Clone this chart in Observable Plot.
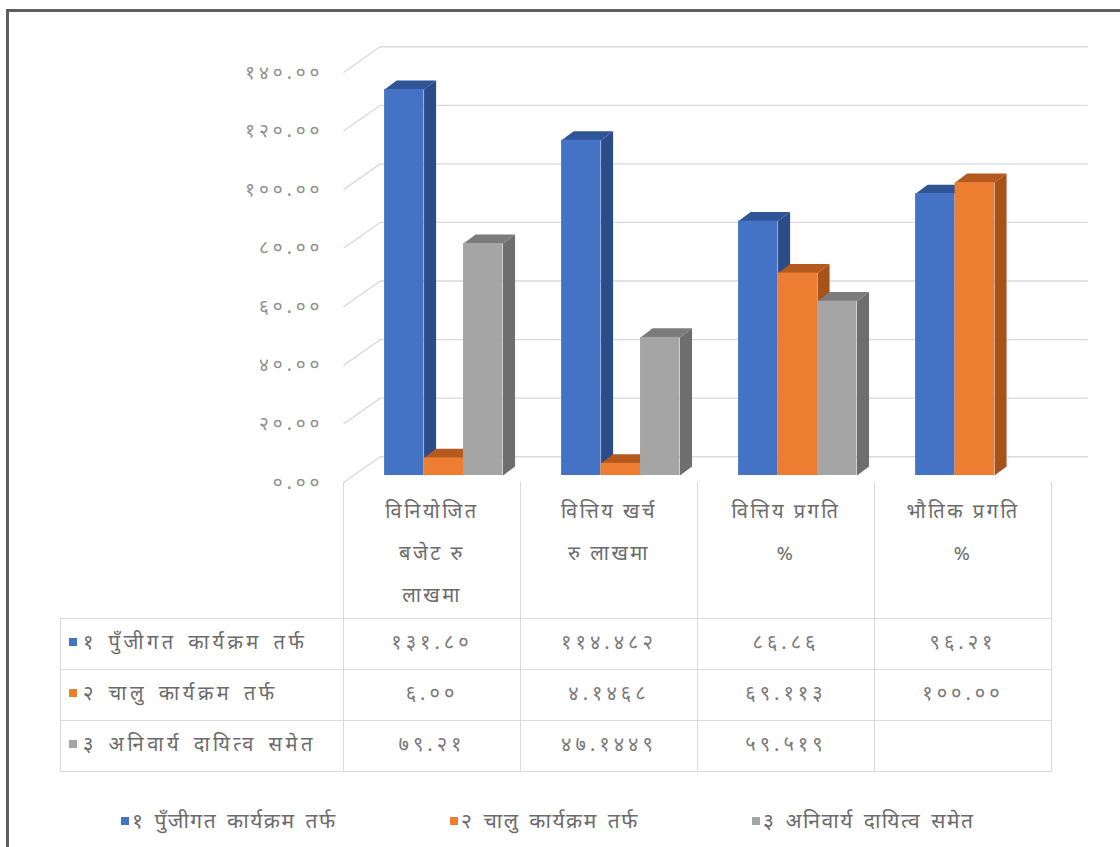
<!DOCTYPE html>
<html>
<head>
<meta charset="utf-8">
<script src="https://cdn.jsdelivr.net/npm/d3@7"></script>
<script src="https://cdn.jsdelivr.net/npm/@observablehq/plot@0.6"></script>
<style>
  html, body { margin: 0; padding: 0; background: #fff; }
  body { font-family: "Noto Sans Devanagari", "Lohit Devanagari", "Noto Sans", "DejaVu Sans", sans-serif; }
  #wrap { position: relative; width: 1120px; height: 847px; overflow: hidden; background: #fff; }
  #frame { position: absolute; left: 6px; top: 9px; width: 1300px; height: 1000px;
           border-left: 3px solid #5f5f5f; border-top: 3px solid #5f5f5f; box-sizing: border-box; }
  #chart { position: absolute; left: 0; top: 0; }
  #chart svg text { letter-spacing: 4px; }
  #tbl { position: absolute; left: 60px; top: 482px; border-collapse: collapse; table-layout: fixed; }
  #tbl td { padding: 0; text-align: center; color: #7a7a7a; font-size: 20px; letter-spacing: 4px; }
  #tbl tr.head td { height: 136px; vertical-align: top; border-left: 1px solid #d9d9d9; border-right: 1px solid #d9d9d9; }
  #tbl tr.head td.blank { border-left: none; }
  #tbl tr.head td div { line-height: 42px; padding-top: 10px; height: 126px; overflow: hidden; color: #6b6b6b; font-size: 20px; letter-spacing: 2.5px; }
  #tbl tr.row td { height: 50px; border: 1px solid #d9d9d9; }
  #tbl tr.row td.lab { text-align: left; padding-left: 8px; color: #6b6b6b; white-space: nowrap; letter-spacing: 3.5px; word-spacing: 3px; }
  .sw { display: inline-block; width: 8px; height: 8px; margin-right: 6px; vertical-align: 3px; }
  #legend { position: absolute; left: 0; top: 809px; width: 1120px; height: 40px; font-size: 21px; color: #6b6b6b; }
  #legend span.item { position: absolute; top: 0; white-space: nowrap; letter-spacing: 1.5px; word-spacing: 3px; }
</style>
</head>
<body>
<div id="wrap">
  <div id="frame"></div>
  <div id="chart"></div>
  <table id="tbl"></table>
  <div id="legend"></div>
</div>
<script>
// ---- data ----
const categoryLines = [
  ["विनियोजित", "बजेट रु", "लाखमा"],
  ["वित्तिय खर्च", "रु लाखमा"],
  ["वित्तिय प्रगति", "%"],
  ["भौतिक प्रगति", "%"]
];
const seriesNames = ["१ पुँजीगत कार्यक्रम तर्फ", "२ चालु कार्यक्रम तर्फ", "३ अनिवार्य दायित्व समेत"];
const capital   = [131.80, 114.482, 86.86, 96.21];
const current   = [6.00, 4.1468, 69.113, 100.00];
const liability = [79.21, 47.1449, 59.519, null];
const capitalText   = ["१३१.८०", "११४.४८२", "८६.८६", "९६.२१"];
const currentText   = ["६.००", "४.१४६८", "६९.११३", "१००.००"];
const liabilityText = ["७९.२१", "४७.१४४९", "५९.५१९", ""];
const yTicks = [0, 20, 40, 60, 80, 100, 120, 140];
const yTickLabels = ["०.००", "२०.००", "४०.००", "६०.००", "८०.००", "१००.००", "१२०.००", "१४०.००"];
const frontColors = ["#4472C4", "#ED7D31", "#A5A5A5"];
const topColors   = ["#2F5597", "#B45A1E", "#7C7C7C"];
const sideColors  = ["#2B4C88", "#A7521B", "#6E6E6E"];
const legendLeft  = [121, 450, 752];

const seriesValues = [capital, current, liability];
const seriesText = [capitalText, currentText, liabilityText];

// ---- projection constants (oblique 3D look) ----
const WALL_DX = 0.208, WALL_DY = 8.8;   // depth of the side/back wall in data units
const BAR_DX = 0.068, BAR_DY = 3.1;     // depth of each column in data units
const PAD = 0.17, BW = 0.223;           // cluster offset / bar width in category units

const bars = [];
seriesValues.forEach((vals, s) => {
  vals.forEach((v, c) => {
    if (v == null) return;
    const x1 = c + PAD + s * BW, x2 = x1 + BW;
    bars.push({s, c, v, x1, x2, id: s + "-" + c});
  });
});
const sidePts = [], topPts = [];
for (const b of bars) {
  sidePts.push({s: b.s, id: b.id, x: b.x2, y: 0}, {s: b.s, id: b.id, x: b.x2, y: b.v},
               {s: b.s, id: b.id, x: b.x2 + BAR_DX, y: b.v + BAR_DY}, {s: b.s, id: b.id, x: b.x2 + BAR_DX, y: BAR_DY});
  topPts.push({s: b.s, id: b.id, x: b.x1, y: b.v}, {s: b.s, id: b.id, x: b.x2, y: b.v},
              {s: b.s, id: b.id, x: b.x2 + BAR_DX, y: b.v + BAR_DY}, {s: b.s, id: b.id, x: b.x1 + BAR_DX, y: b.v + BAR_DY});
}

const shift = {dx: 11, dy: -7};
const marks = [
  Plot.link(yTicks, {x1: () => 0, y1: d => d, x2: () => WALL_DX, y2: d => d + WALL_DY, stroke: "#d9d9d9", strokeWidth: 1.3}),
  Plot.ruleY(yTicks, {y: d => d + WALL_DY, x1: () => WALL_DX, x2: () => 4 + WALL_DX, stroke: "#d9d9d9", strokeWidth: 1.3})
];
[0, 1, 2].forEach(s => marks.push(Plot.line(sidePts.filter(p => p.s === s), {x: "x", y: "y", z: "id", fill: sideColors[s], stroke: "none", curve: "linear-closed", ...shift})));
[0, 1, 2].forEach(s => marks.push(Plot.line(topPts.filter(p => p.s === s), {x: "x", y: "y", z: "id", fill: topColors[s], stroke: "none", curve: "linear-closed", ...shift})));
[0, 1, 2].forEach(s => marks.push(Plot.rect(bars.filter(b => b.s === s), {x1: "x1", x2: "x2", y1: () => 0, y2: "v", fill: frontColors[s], ...shift})));

const chart = Plot.plot({
  width: 1120,
  height: 500,
  marginLeft: 343,
  marginRight: 69,
  marginTop: 72,
  marginBottom: 18,
  style: {background: "transparent", fontSize: "19px", fontFamily: "'Noto Sans Devanagari', 'Lohit Devanagari', 'Noto Sans', sans-serif", color: "#8f8f8f", overflow: "visible"},
  x: {domain: [0, 4], axis: null},
  y: {domain: [0, 140], ticks: yTicks, tickFormat: d => yTickLabels[yTicks.indexOf(d)], tickSize: 0, tickPadding: 20, label: null},
  marks
});
document.getElementById("chart").appendChild(chart);

// ---- data table ----
const tbl = document.getElementById("tbl");
const colgroup = document.createElement("colgroup");
[283, 177, 177, 177, 177].forEach(w => { const c = document.createElement("col"); c.style.width = w + "px"; colgroup.appendChild(c); });
tbl.appendChild(colgroup);
const head = document.createElement("tr"); head.className = "head";
const blank = document.createElement("td"); blank.className = "blank"; head.appendChild(blank);
categoryLines.forEach(lines => {
  const td = document.createElement("td");
  const div = document.createElement("div");
  div.innerHTML = lines.join("<br>");
  td.appendChild(div); head.appendChild(td);
});
tbl.appendChild(head);
seriesNames.forEach((name, s) => {
  const tr = document.createElement("tr"); tr.className = "row";
  const lab = document.createElement("td"); lab.className = "lab";
  lab.innerHTML = `<span class="sw" style="background:${frontColors[s]}"></span>${name}`;
  tr.appendChild(lab);
  seriesText[s].forEach(t => { const td = document.createElement("td"); td.textContent = t; tr.appendChild(td); });
  tbl.appendChild(tr);
});

// ---- legend ----
const legend = document.getElementById("legend");
legend.innerHTML = seriesNames.map((n, s) => `<span class="item" style="left:${legendLeft[s]}px"><span class="sw" style="background:${frontColors[s]};margin-right:3px"></span>${n}</span>`).join("");
</script>
</body>
</html>
